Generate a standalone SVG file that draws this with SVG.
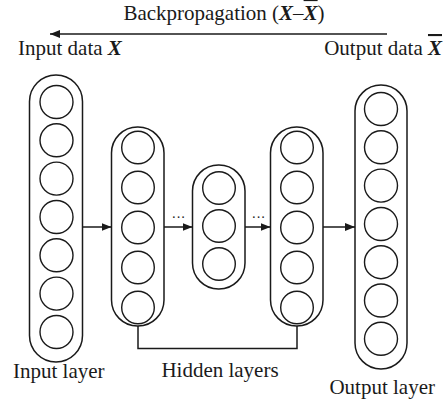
<svg xmlns="http://www.w3.org/2000/svg" width="447" height="399" viewBox="0 0 447 399">
<defs>
<style>
.cap{fill:none;stroke:#1a1a1a;stroke-width:1.5}
.n{fill:none;stroke:#1a1a1a;stroke-width:1.4}
.ln{fill:none;stroke:#1a1a1a;stroke-width:1.5}
.t{font-family:"Liberation Serif","Times New Roman",serif;font-size:21px;fill:#1a1a1a}
.v{font-weight:bold;font-style:italic}
.dots{font-family:"Liberation Serif",serif;font-size:14px;fill:#1a1a1a}
</style>
<marker id="ah" viewBox="0 0 10 8" refX="10" refY="4" markerWidth="10" markerHeight="8" markerUnits="userSpaceOnUse" orient="auto">
<path d="M0,0 L10,4 L0,8 Z" fill="#1a1a1a"/>
</marker>
</defs>
<rect width="447" height="399" fill="#fff"/>

<g id="labels">
<text class="t" x="224" y="20" text-anchor="middle">Backpropagation (<tspan class="v">X</tspan>–<tspan class="v" text-decoration="overline">X</tspan>)</text>
<text class="t" x="18" y="55">Input data <tspan class="v">X</tspan></text>
<text class="t" x="442" y="55" text-anchor="end">Output data <tspan class="v" text-decoration="overline">X</tspan></text>
<text class="t" x="13" y="378">Input layer</text>
<text class="t" x="220" y="377" text-anchor="middle">Hidden layers</text>
<text class="t" x="435" y="394" text-anchor="end">Output layer</text>
</g>

<g id="input-layer">
<rect class="cap" x="29.5" y="75" width="53" height="287" rx="26.5"/>
<circle class="n" cx="56.5" cy="102" r="16.5"/>
<circle class="n" cx="56.5" cy="140.3" r="16.5"/>
<circle class="n" cx="56.5" cy="178.6" r="16.5"/>
<circle class="n" cx="56.5" cy="217" r="16.5"/>
<circle class="n" cx="56.5" cy="255.3" r="16.5"/>
<circle class="n" cx="56.5" cy="293.6" r="16.5"/>
<circle class="n" cx="56.5" cy="332" r="16.5"/>
</g>

<g id="hidden-layer-1">
<rect class="cap" x="111.5" y="127" width="52.5" height="199" rx="26"/>
<circle class="n" cx="138" cy="147.5" r="16.3"/>
<circle class="n" cx="138" cy="187.5" r="16.3"/>
<circle class="n" cx="138" cy="227.5" r="16.3"/>
<circle class="n" cx="138" cy="267.5" r="16.3"/>
<circle class="n" cx="138" cy="307.5" r="16.3"/>
</g>

<g id="hidden-layer-mid">
<rect class="cap" x="192.5" y="165" width="52.5" height="124" rx="26"/>
<circle class="n" cx="219" cy="188" r="16.3"/>
<circle class="n" cx="219" cy="226" r="16.3"/>
<circle class="n" cx="219" cy="264" r="16.3"/>
</g>

<g id="hidden-layer-3">
<rect class="cap" x="270.5" y="127" width="52.5" height="199" rx="26"/>
<circle class="n" cx="297" cy="147.5" r="16.3"/>
<circle class="n" cx="297" cy="187.5" r="16.3"/>
<circle class="n" cx="297" cy="227.5" r="16.3"/>
<circle class="n" cx="297" cy="267.5" r="16.3"/>
<circle class="n" cx="297" cy="307.5" r="16.3"/>
</g>

<g id="output-layer">
<rect class="cap" x="355" y="85" width="52" height="284" rx="26"/>
<circle class="n" cx="381" cy="109" r="16.5"/>
<circle class="n" cx="381" cy="147.3" r="16.5"/>
<circle class="n" cx="381" cy="185.6" r="16.5"/>
<circle class="n" cx="381" cy="224" r="16.5"/>
<circle class="n" cx="381" cy="262.2" r="16.5"/>
<circle class="n" cx="381" cy="300.5" r="16.5"/>
<circle class="n" cx="381" cy="338.8" r="16.5"/>
</g>

<g id="connectors">
<line class="ln" x1="387" y1="34" x2="50" y2="34" marker-end="url(#ah)"/>
<line class="ln" x1="82.5" y1="227" x2="111.5" y2="227" marker-end="url(#ah)"/>
<line class="ln" x1="164" y1="227" x2="192.5" y2="227" marker-end="url(#ah)"/>
<line class="ln" x1="245" y1="227" x2="270.5" y2="227" marker-end="url(#ah)"/>
<line class="ln" x1="323" y1="227" x2="355" y2="227" marker-end="url(#ah)"/>
<text class="dots" x="178.5" y="222" text-anchor="middle">···</text>
<text class="dots" x="258.5" y="222" text-anchor="middle">···</text>
<path class="ln" d="M138,326 V348.5 H297 V326"/>
</g>
</svg>
